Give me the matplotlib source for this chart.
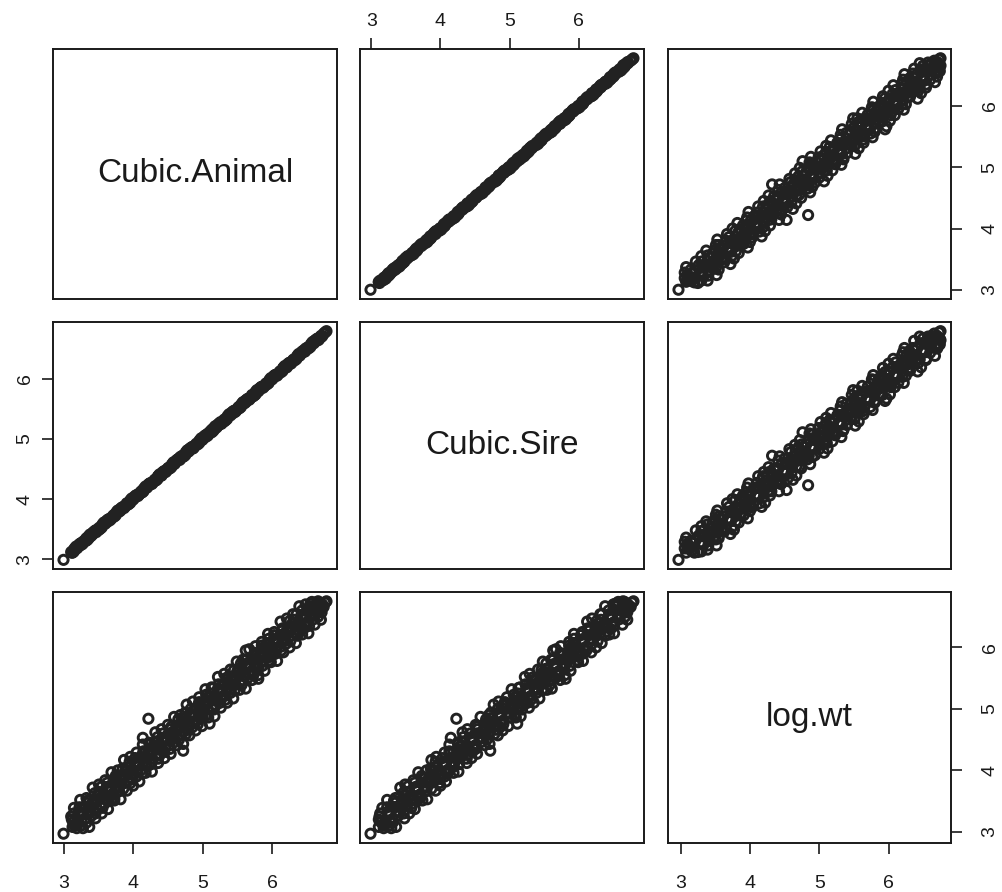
import matplotlib
matplotlib.use("Agg")
import matplotlib.pyplot as plt

plt.rcParams['font.family'] = ['Liberation Sans', 'DejaVu Sans']

# values (one entry per animal)
animal = [
    3.11, 3.13, 3.14, 3.16, 3.12, 3.18, 3.15, 3.19,
    3.20, 3.22, 3.25, 3.27, 3.23, 3.26, 3.29, 3.24,
    3.31, 3.33, 3.34, 3.36, 3.32, 3.38, 3.35, 3.39,
    3.40, 3.42, 3.45, 3.47, 3.43, 3.46, 3.49, 3.44,
    3.51, 3.53, 3.54, 3.56, 3.52, 3.58, 3.55, 3.59,
    3.60, 3.62, 3.65, 3.67, 3.63, 3.66, 3.69, 3.64,
    3.71, 3.73, 3.74, 3.76, 3.72, 3.78, 3.75, 3.79,
    3.80, 3.82, 3.85, 3.87, 3.83, 3.86, 3.89, 3.84,
    3.91, 3.93, 3.94, 3.96, 3.92, 3.98, 3.95, 3.99,
    4.00, 4.02, 4.05, 4.07, 4.03, 4.06, 4.09, 4.04,
    4.11, 4.13, 4.14, 4.16, 4.12, 4.18, 4.15, 4.19,
    4.20, 4.22, 4.25, 4.27, 4.23, 4.26, 4.29, 4.24,
    4.31, 4.33, 4.34, 4.36, 4.32, 4.38, 4.35, 4.39,
    4.40, 4.42, 4.45, 4.47, 4.43, 4.46, 4.49, 4.44,
    4.51, 4.53, 4.54, 4.56, 4.52, 4.58, 4.55, 4.59,
    4.60, 4.62, 4.65, 4.67, 4.63, 4.66, 4.69, 4.64,
    4.71, 4.73, 4.74, 4.76, 4.72, 4.78, 4.75, 4.79,
    4.80, 4.82, 4.85, 4.87, 4.83, 4.86, 4.89, 4.84,
    4.91, 4.93, 4.94, 4.96, 4.92, 4.98, 4.95, 4.99,
    5.00, 5.02, 5.05, 5.07, 5.03, 5.06, 5.09, 5.04,
    5.11, 5.13, 5.14, 5.16, 5.12, 5.18, 5.15, 5.19,
    5.20, 5.22, 5.25, 5.27, 5.23, 5.26, 5.29, 5.24,
    5.31, 5.33, 5.34, 5.36, 5.32, 5.38, 5.35, 5.39,
    5.40, 5.42, 5.45, 5.47, 5.43, 5.46, 5.49, 5.44,
    5.51, 5.53, 5.54, 5.56, 5.52, 5.58, 5.55, 5.59,
    5.60, 5.62, 5.65, 5.67, 5.63, 5.66, 5.69, 5.64,
    5.71, 5.73, 5.74, 5.76, 5.72, 5.78, 5.75, 5.79,
    5.80, 5.82, 5.85, 5.87, 5.83, 5.86, 5.89, 5.84,
    5.91, 5.93, 5.94, 5.96, 5.92, 5.98, 5.95, 5.99,
    6.00, 6.02, 6.05, 6.07, 6.03, 6.06, 6.09, 6.04,
    6.11, 6.13, 6.14, 6.16, 6.12, 6.18, 6.15, 6.19,
    6.20, 6.22, 6.25, 6.27, 6.23, 6.26, 6.29, 6.24,
    6.31, 6.33, 6.34, 6.36, 6.32, 6.38, 6.35, 6.39,
    6.40, 6.42, 6.45, 6.47, 6.43, 6.46, 6.49, 6.44,
    6.51, 6.53, 6.54, 6.56, 6.52, 6.58, 6.55, 6.59,
    6.60, 6.62, 6.65, 6.67, 6.63, 6.66, 6.69, 6.64,
    6.70, 6.72, 6.74, 6.76, 6.78, 6.71,
    3.00, 4.22, 4.72, 5.10, 5.80, 4.14, 5.62,
    # upper edge of the cloud
    3.15, 3.24, 3.33, 3.42, 3.51, 3.60, 3.69, 3.78, 3.87, 3.96,
    4.05, 4.14, 4.23, 4.32, 4.41, 4.50, 4.59, 4.68, 4.77, 4.86,
    4.95, 5.04, 5.13, 5.22, 5.31, 5.40, 5.49, 5.58, 5.67, 5.76,
    5.85, 5.94, 6.03, 6.12, 6.21, 6.30, 6.39, 6.48, 6.57, 6.66,
    # lower edge of the cloud
    3.19, 3.28, 3.37, 3.46, 3.55, 3.64, 3.73, 3.82, 3.91, 4.00,
    4.09, 4.18, 4.27, 4.36, 4.45, 4.54, 4.63, 4.72, 4.81, 4.90,
    4.99, 5.08, 5.17, 5.26, 5.35, 5.44, 5.53, 5.62, 5.71, 5.80,
    5.89, 5.98, 6.07, 6.16, 6.25, 6.34, 6.43, 6.52, 6.61, 6.70,
]

sire = [
    3.12, 3.11, 3.14, 3.18, 3.11, 3.21, 3.13, 3.20,
    3.19, 3.24, 3.26, 3.25, 3.23, 3.27, 3.28, 3.26,
    3.32, 3.31, 3.34, 3.38, 3.31, 3.41, 3.33, 3.40,
    3.39, 3.44, 3.46, 3.45, 3.43, 3.47, 3.48, 3.46,
    3.52, 3.51, 3.54, 3.58, 3.51, 3.61, 3.53, 3.60,
    3.59, 3.64, 3.66, 3.65, 3.63, 3.67, 3.68, 3.66,
    3.72, 3.71, 3.74, 3.78, 3.71, 3.81, 3.73, 3.80,
    3.79, 3.84, 3.86, 3.85, 3.83, 3.87, 3.88, 3.86,
    3.92, 3.91, 3.94, 3.98, 3.91, 4.01, 3.93, 4.00,
    3.99, 4.04, 4.06, 4.05, 4.03, 4.07, 4.08, 4.06,
    4.12, 4.11, 4.14, 4.18, 4.11, 4.21, 4.13, 4.20,
    4.19, 4.24, 4.26, 4.25, 4.23, 4.27, 4.28, 4.26,
    4.32, 4.31, 4.34, 4.38, 4.31, 4.41, 4.33, 4.40,
    4.39, 4.44, 4.46, 4.45, 4.43, 4.47, 4.48, 4.46,
    4.52, 4.51, 4.54, 4.58, 4.51, 4.61, 4.53, 4.60,
    4.59, 4.64, 4.66, 4.65, 4.63, 4.67, 4.68, 4.66,
    4.72, 4.71, 4.74, 4.78, 4.71, 4.81, 4.73, 4.80,
    4.79, 4.84, 4.86, 4.85, 4.83, 4.87, 4.88, 4.86,
    4.92, 4.91, 4.94, 4.98, 4.91, 5.01, 4.93, 5.00,
    4.99, 5.04, 5.06, 5.05, 5.03, 5.07, 5.08, 5.06,
    5.12, 5.11, 5.14, 5.18, 5.11, 5.21, 5.13, 5.20,
    5.19, 5.24, 5.26, 5.25, 5.23, 5.27, 5.28, 5.26,
    5.32, 5.31, 5.34, 5.38, 5.31, 5.41, 5.33, 5.40,
    5.39, 5.44, 5.46, 5.45, 5.43, 5.47, 5.48, 5.46,
    5.52, 5.51, 5.54, 5.58, 5.51, 5.61, 5.53, 5.60,
    5.59, 5.64, 5.66, 5.65, 5.63, 5.67, 5.68, 5.66,
    5.72, 5.71, 5.74, 5.78, 5.71, 5.81, 5.73, 5.80,
    5.79, 5.84, 5.86, 5.85, 5.83, 5.87, 5.88, 5.86,
    5.92, 5.91, 5.94, 5.98, 5.91, 6.01, 5.93, 6.00,
    5.99, 6.04, 6.06, 6.05, 6.03, 6.07, 6.08, 6.06,
    6.12, 6.11, 6.14, 6.18, 6.11, 6.21, 6.13, 6.20,
    6.19, 6.24, 6.26, 6.25, 6.23, 6.27, 6.28, 6.26,
    6.32, 6.31, 6.34, 6.38, 6.31, 6.41, 6.33, 6.40,
    6.39, 6.44, 6.46, 6.45, 6.43, 6.47, 6.48, 6.46,
    6.52, 6.51, 6.54, 6.58, 6.51, 6.61, 6.53, 6.60,
    6.59, 6.64, 6.66, 6.65, 6.63, 6.67, 6.68, 6.66,
    6.71, 6.71, 6.75, 6.77, 6.79, 6.70,
    2.99, 4.23, 4.72, 5.11, 5.81, 4.15, 5.63,
    3.16, 3.23, 3.35, 3.42, 3.49, 3.61, 3.68, 3.80, 3.87, 3.94,
    4.06, 4.13, 4.25, 4.32, 4.39, 4.51, 4.58, 4.70, 4.77, 4.84,
    4.96, 5.03, 5.15, 5.22, 5.29, 5.41, 5.48, 5.60, 5.67, 5.74,
    5.86, 5.93, 6.05, 6.12, 6.19, 6.31, 6.38, 6.50, 6.57, 6.64,
    3.18, 3.29, 3.36, 3.48, 3.55, 3.63, 3.74, 3.81, 3.93, 4.00,
    4.08, 4.19, 4.26, 4.38, 4.45, 4.53, 4.64, 4.71, 4.83, 4.90,
    4.98, 5.09, 5.16, 5.28, 5.35, 5.43, 5.54, 5.61, 5.73, 5.80,
    5.88, 5.99, 6.06, 6.18, 6.25, 6.33, 6.44, 6.51, 6.63, 6.70,
]

logwt = [
    3.25, 3.08, 3.16, 3.10, 3.20, 3.14, 3.30, 3.12,
    3.14, 3.33, 3.10, 3.31, 3.40, 3.17, 3.29, 3.31,
    3.40, 3.15, 3.47, 3.34, 3.21, 3.43, 3.51, 3.32,
    3.26, 3.48, 3.63, 3.39, 3.44, 3.30, 3.59, 3.47,
    3.65, 3.43, 3.56, 3.39, 3.60, 3.54, 3.74, 3.46,
    3.54, 3.73, 3.50, 3.71, 3.80, 3.57, 3.69, 3.71,
    3.80, 3.55, 3.87, 3.74, 3.61, 3.83, 3.91, 3.72,
    3.66, 3.88, 4.03, 3.79, 3.84, 3.70, 3.99, 3.87,
    4.05, 3.83, 3.96, 3.79, 4.00, 3.94, 4.14, 3.86,
    3.94, 4.13, 3.90, 4.11, 4.20, 3.97, 4.09, 4.11,
    4.20, 3.95, 4.27, 4.14, 4.01, 4.23, 4.31, 4.12,
    4.06, 4.28, 4.43, 4.19, 4.24, 4.10, 4.39, 4.27,
    4.45, 4.23, 4.36, 4.19, 4.40, 4.34, 4.54, 4.26,
    4.34, 4.53, 4.30, 4.51, 4.60, 4.37, 4.49, 4.51,
    4.60, 4.35, 4.67, 4.54, 4.41, 4.63, 4.71, 4.52,
    4.46, 4.68, 4.83, 4.59, 4.64, 4.50, 4.79, 4.67,
    4.85, 4.63, 4.76, 4.59, 4.80, 4.74, 4.94, 4.66,
    4.74, 4.93, 4.70, 4.91, 5.00, 4.77, 4.89, 4.91,
    5.00, 4.75, 5.07, 4.94, 4.81, 5.03, 5.11, 4.92,
    4.86, 5.08, 5.23, 4.99, 5.04, 4.90, 5.19, 5.07,
    5.25, 5.03, 5.16, 4.99, 5.20, 5.14, 5.34, 5.06,
    5.14, 5.33, 5.10, 5.31, 5.40, 5.17, 5.29, 5.31,
    5.40, 5.15, 5.47, 5.34, 5.21, 5.43, 5.51, 5.32,
    5.26, 5.48, 5.63, 5.39, 5.44, 5.30, 5.59, 5.47,
    5.65, 5.43, 5.56, 5.39, 5.60, 5.54, 5.74, 5.46,
    5.54, 5.73, 5.50, 5.71, 5.80, 5.57, 5.69, 5.71,
    5.80, 5.55, 5.87, 5.74, 5.61, 5.83, 5.91, 5.72,
    5.66, 5.88, 6.03, 5.79, 5.84, 5.70, 5.99, 5.87,
    6.05, 5.83, 5.96, 5.79, 6.00, 5.94, 6.14, 5.86,
    5.94, 6.13, 5.90, 6.11, 6.20, 5.97, 6.09, 6.11,
    6.20, 5.95, 6.27, 6.14, 6.01, 6.23, 6.31, 6.12,
    6.06, 6.28, 6.43, 6.19, 6.24, 6.10, 6.39, 6.27,
    6.45, 6.23, 6.36, 6.19, 6.40, 6.34, 6.54, 6.26,
    6.34, 6.53, 6.30, 6.51, 6.60, 6.37, 6.49, 6.51,
    6.60, 6.35, 6.67, 6.54, 6.41, 6.63, 6.71, 6.52,
    6.46, 6.66, 6.74, 6.59, 6.64, 6.50, 6.72, 6.67,
    6.62, 6.70, 6.66, 6.73, 6.75, 6.57,
    2.97, 4.84, 4.32, 4.76, 5.49, 4.53, 5.95,
    3.39, 3.52, 3.55, 3.72, 3.77, 3.84, 3.97, 4.00, 4.17, 4.22,
    4.29, 4.42, 4.45, 4.62, 4.67, 4.74, 4.87, 4.90, 5.07, 5.12,
    5.19, 5.32, 5.35, 5.52, 5.57, 5.64, 5.77, 5.80, 5.97, 6.02,
    6.09, 6.22, 6.25, 6.42, 6.47, 6.54, 6.67, 6.70, 6.74, 6.75,
    3.06, 3.06, 3.08, 3.22, 3.30, 3.37, 3.51, 3.53, 3.67, 3.75,
    3.82, 3.96, 3.98, 4.12, 4.20, 4.27, 4.41, 4.43, 4.57, 4.65,
    4.72, 4.86, 4.88, 5.02, 5.10, 5.17, 5.31, 5.33, 5.47, 5.55,
    5.62, 5.76, 5.78, 5.92, 6.00, 6.07, 6.21, 6.23, 6.37, 6.45,
]

names = ["Cubic.Animal", "Cubic.Sire", "log.wt"]
ticks = [3, 4, 5, 6]

W, H = 1002, 892
fig = plt.figure(figsize=(W / 100, H / 100), dpi=100)

# panel boxes in pixels (left, right) and (top, bottom)
cols_px = [(53, 337), (360, 644), (668, 951)]
rows_px = [(49, 299), (322, 569), (592, 843)]

data = [animal, sire, logwt]


def lims(v):
    lo, hi = min(v), max(v)
    r = hi - lo
    return lo - 0.04 * r, hi + 0.04 * r


for i in range(3):
    for j in range(3):
        x0, x1 = cols_px[j]
        y0, y1 = rows_px[i]
        ax = fig.add_axes([x0 / W, 1 - y1 / H, (x1 - x0) / W, (y1 - y0) / H])
        ax.set_xlim(*lims(data[j]))
        ax.set_ylim(*lims(data[i]))
        for sp in ax.spines.values():
            sp.set_linewidth(1.4)
            sp.set_color("#1a1a1a")
        if i == j:
            ax.text(0.5, 0.5, names[i], transform=ax.transAxes,
                    ha="center", va="center", fontsize=24, color="#1a1a1a")
        else:
            ax.scatter(data[j], data[i], s=44, facecolors="none",
                       edgecolors="#222222", linewidths=2.1)

        ax.tick_params(length=8, width=1.2, labelsize=14, colors="#1a1a1a",
                       bottom=False, top=False, left=False, right=False,
                       labelbottom=False, labeltop=False,
                       labelleft=False, labelright=False)
        ax.set_xticks(ticks)
        ax.set_yticks(ticks)
        # R pairs() style alternating axes
        if i == 0 and j == 1:
            ax.tick_params(top=True, labeltop=True, pad=6)
        if i == 2 and j in (0, 2):
            ax.tick_params(bottom=True, labelbottom=True, pad=15)
        if j == 2 and i in (0, 2):
            ax.tick_params(axis="y", right=True, labelright=True, pad=14)
            for lb in ax.get_yticklabels():
                lb.set_rotation(90)
                lb.set_va("center")
        if j == 0 and i == 1:
            ax.tick_params(axis="y", left=True, labelleft=True, pad=6)
            for lb in ax.get_yticklabels():
                lb.set_rotation(90)
                lb.set_va("center")

fig.savefig("out.png", dpi=100)
